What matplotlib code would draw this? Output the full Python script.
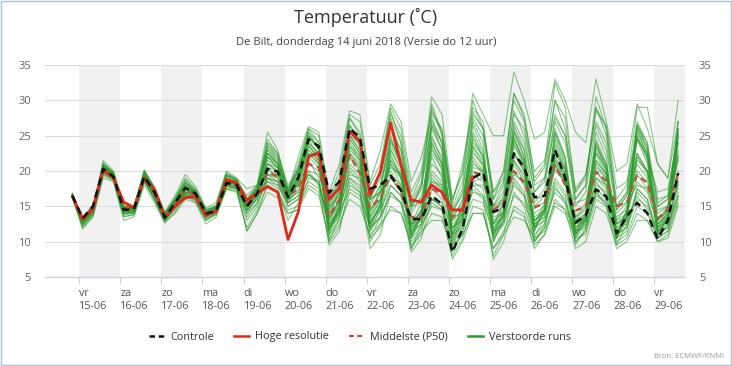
import matplotlib
matplotlib.use("Agg")
import matplotlib.pyplot as plt
from matplotlib.patches import Rectangle
from matplotlib.lines import Line2D

plt.rcParams['font.family'] = ['Open Sans', 'DejaVu Sans']

# ---------------- data ----------------
# time axis: hours relative to 15-06 00:00, 6-hourly, first point 14-06 20:00
start_hour = -4
step_hours = 6
n_points = 60

day_names = ["vr", "za", "zo", "ma", "di", "wo", "do", "vr", "za", "zo", "ma", "di", "wo", "do", "vr"]
day_dates = ["15-06", "16-06", "17-06", "18-06", "19-06", "20-06", "21-06", "22-06",
             "23-06", "24-06", "25-06", "26-06", "27-06", "28-06", "29-06"]

controle = [16.5,
            13.3, 15.0, 20.3, 19.2, 14.5, 14.6, 19.2, 17.0, 13.4, 15.5, 17.6, 16.8,
            14.0, 14.3, 18.3, 18.0, 15.0, 16.8, 20.3, 19.9, 16.3, 19.0, 24.5, 23.5,
            16.9, 18.5, 26.0, 24.8, 17.5, 18.0, 19.3, 17.3, 13.2, 13.2, 16.5, 15.3,
            8.5, 11.8, 19.0, 19.8, 14.2, 14.8, 22.5, 20.5, 16.3, 16.5, 23.0, 19.0,
            12.7, 13.7, 17.4, 16.4, 11.2, 13.6, 15.5, 14.0, 10.4, 13.0, 19.7]

hoge_resolutie = [16.4,
                  13.2, 14.6, 20.2, 19.0, 15.6, 14.8, 19.0, 17.4, 13.4, 15.0, 16.2, 16.4,
                  13.7, 14.3, 18.8, 18.3, 15.9, 16.8, 17.8, 17.0, 10.3, 14.2, 22.0, 22.6,
                  16.0, 17.6, 25.6, 24.2, 16.6, 19.9, 26.8, 20.9, 15.9, 15.6, 18.0, 17.0,
                  14.5, 14.5, 19.0]

middelste_p50 = [16.5,
                 13.3, 14.8, 20.0, 19.0, 14.8, 14.8, 19.0, 16.8, 13.5, 15.2, 17.3, 16.6,
                 13.9, 14.4, 18.3, 18.0, 15.3, 16.9, 19.8, 19.2, 16.4, 17.5, 21.0, 20.5,
                 13.6, 16.0, 22.2, 19.7, 14.8, 16.2, 19.4, 17.0, 13.5, 13.5, 17.5, 16.8,
                 13.5, 14.5, 19.8, 19.5, 14.6, 15.4, 20.0, 18.4, 14.8, 15.5, 20.8, 18.0,
                 14.4, 15.0, 19.9, 18.6, 15.0, 15.6, 19.4, 18.3, 13.3, 14.5, 19.7]

verstoorde_runs = [
    [16.8, 12.5, 14.2, 21.0, 19.5, 14.0, 14.2, 19.5, 16.5, 13.0, 15.8, 18.5, 17.0, 14.5, 14.8, 19.0, 18.2, 15.5, 17.5, 23.0, 21.5, 17.0, 20.5, 26.0, 24.0, 15.0, 18.0, 27.5, 25.0, 16.0, 20.0, 28.5, 24.0, 14.5, 18.0, 29.0, 25.0, 14.0, 17.0, 28.0, 26.0, 17.0, 19.0, 30.0, 27.0, 18.0, 19.0, 26.0, 22.0, 13.0, 15.0, 24.0, 21.0, 12.5, 14.0, 22.0, 20.0, 13.0, 15.0, 24.0],
    [16.2, 11.8, 13.5, 19.0, 18.5, 13.0, 13.5, 18.0, 15.5, 12.8, 14.0, 16.0, 15.5, 12.5, 13.5, 17.5, 17.0, 12.0, 14.5, 18.0, 17.0, 14.5, 15.0, 18.0, 17.0, 10.0, 12.0, 17.0, 16.0, 10.5, 12.0, 15.0, 14.0, 9.5, 11.0, 14.0, 13.5, 8.0, 10.5, 15.0, 14.5, 8.0, 11.0, 17.0, 15.0, 10.0, 12.0, 18.0, 15.5, 10.0, 11.5, 17.0, 15.0, 10.0, 11.0, 15.0, 14.0, 10.5, 11.5, 16.0],
    [16.6, 13.0, 14.8, 20.5, 19.5, 14.5, 14.5, 19.5, 17.0, 13.5, 15.5, 17.5, 16.5, 13.5, 14.5, 18.5, 18.0, 14.0, 16.5, 21.0, 20.0, 15.5, 18.5, 24.5, 22.0, 11.5, 14.5, 23.0, 21.5, 12.0, 15.5, 23.0, 20.0, 11.0, 14.0, 25.0, 21.5, 10.5, 14.0, 24.5, 22.0, 11.0, 14.5, 25.0, 21.0, 11.5, 14.5, 24.0, 20.0, 10.5, 13.5, 23.5, 20.5, 10.5, 14.0, 26.0, 22.0, 11.0, 14.0, 25.0],
    [16.9, 12.8, 14.5, 21.5, 20.0, 15.0, 15.0, 20.0, 17.5, 14.0, 16.0, 18.0, 17.0, 14.0, 15.0, 19.5, 18.5, 14.5, 16.0, 22.0, 20.5, 16.0, 19.0, 25.5, 23.0, 12.0, 15.0, 26.0, 23.5, 13.0, 16.0, 21.0, 18.0, 12.0, 14.5, 26.0, 23.0, 11.5, 15.0, 26.5, 23.0, 12.5, 15.5, 25.5, 22.0, 12.5, 15.5, 25.0, 21.0, 11.5, 14.0, 24.5, 21.0, 11.0, 14.5, 25.5, 22.5, 12.0, 15.0, 26.0],
    [16.5, 13.5, 15.0, 20.0, 19.0, 14.0, 14.0, 19.0, 16.0, 13.0, 15.0, 17.0, 16.5, 14.0, 14.5, 18.0, 17.5, 15.0, 17.0, 24.0, 22.5, 17.5, 21.0, 26.0, 25.0, 16.0, 20.0, 28.0, 27.0, 18.0, 21.0, 29.0, 26.0, 17.0, 20.0, 30.5, 28.0, 16.0, 20.0, 31.0, 28.0, 25.0, 25.0, 34.0, 30.0, 24.5, 25.5, 33.0, 30.0, 25.5, 24.0, 33.0, 27.0, 20.0, 21.0, 29.5, 26.0, 21.0, 19.0, 30.0],
    [16.7, 13.0, 14.8, 20.8, 19.8, 14.8, 14.8, 19.8, 17.2, 13.8, 16.0, 19.0, 17.5, 14.5, 15.0, 19.5, 19.0, 16.0, 18.0, 25.5, 23.0, 17.0, 22.0, 26.3, 25.5, 17.0, 21.0, 28.5, 28.0, 18.5, 23.0, 29.5, 27.0, 18.5, 22.0, 28.0, 26.0, 15.5, 21.0, 29.0, 27.0, 16.0, 20.0, 31.0, 28.0, 19.0, 21.0, 32.5, 29.0, 17.0, 19.0, 29.0, 26.0, 16.0, 18.0, 29.0, 29.0, 21.0, 19.0, 27.0],
    [16.3, 12.2, 13.8, 19.5, 18.8, 13.5, 13.8, 18.5, 16.0, 13.0, 14.5, 16.5, 16.0, 13.0, 14.0, 18.0, 17.5, 13.0, 15.0, 19.5, 18.5, 15.0, 16.0, 20.0, 18.0, 9.5, 11.5, 18.0, 17.0, 9.0, 11.0, 17.0, 15.5, 8.5, 10.5, 16.0, 15.0, 9.0, 11.0, 17.5, 16.0, 7.5, 10.0, 15.0, 14.0, 9.0, 11.0, 16.0, 14.5, 9.0, 10.0, 15.0, 14.0, 9.5, 10.5, 14.0, 13.0, 10.0, 10.5, 15.0],
    [16.5, 13.3, 15.0, 20.3, 19.3, 14.6, 14.8, 19.2, 17.0, 13.4, 15.3, 17.8, 16.8, 14.0, 14.4, 18.5, 18.0, 15.0, 17.0, 20.5, 20.0, 16.5, 18.0, 22.0, 20.5, 13.0, 16.0, 22.0, 20.0, 14.5, 17.0, 20.0, 17.5, 13.0, 14.0, 18.5, 17.5, 13.0, 14.5, 21.0, 20.0, 14.5, 15.5, 21.5, 19.0, 14.0, 15.0, 22.0, 19.0, 13.5, 14.5, 20.5, 19.0, 14.0, 15.5, 20.0, 18.5, 13.0, 14.5, 20.0],
    [16.4, 13.0, 14.6, 19.8, 19.0, 14.2, 14.4, 18.8, 16.6, 13.2, 15.0, 17.0, 16.2, 13.6, 14.2, 18.0, 17.8, 14.6, 16.5, 19.0, 18.5, 16.0, 17.0, 19.5, 18.0, 13.5, 15.0, 19.0, 18.0, 13.0, 14.5, 18.0, 16.5, 12.5, 13.0, 16.0, 15.5, 12.0, 13.5, 17.0, 16.5, 12.5, 13.5, 18.0, 16.5, 13.0, 14.0, 19.0, 17.0, 12.5, 13.0, 18.0, 17.0, 13.5, 14.5, 18.5, 17.0, 12.5, 13.5, 18.0],
    [16.6, 12.6, 14.2, 21.2, 19.8, 14.5, 14.2, 20.0, 17.8, 14.2, 16.5, 19.5, 17.8, 14.8, 15.5, 20.0, 19.0, 17.5, 18.0, 24.5, 22.5, 18.0, 20.0, 25.0, 23.0, 11.0, 14.0, 25.0, 23.0, 11.5, 14.5, 24.5, 21.0, 10.5, 13.5, 26.5, 23.0, 10.0, 13.5, 25.5, 22.5, 10.5, 14.0, 26.0, 22.0, 10.5, 13.5, 25.5, 21.5, 11.0, 13.0, 24.0, 20.0, 9.5, 12.5, 26.5, 23.0, 11.0, 13.5, 27.0],
    [16.7, 13.1, 14.9, 20.6, 19.4, 14.9, 14.6, 19.6, 17.3, 13.7, 15.6, 17.8, 16.9, 14.2, 14.8, 19.0, 18.4, 15.3, 17.3, 22.5, 21.0, 16.8, 19.5, 24.0, 21.0, 12.5, 15.0, 24.0, 22.0, 12.5, 15.0, 22.5, 19.0, 11.5, 13.5, 24.0, 21.0, 11.0, 14.5, 23.5, 21.0, 11.5, 14.0, 24.0, 20.5, 12.0, 14.0, 23.0, 19.5, 11.0, 13.0, 22.5, 19.5, 11.5, 13.5, 24.5, 21.0, 11.5, 13.0, 24.0],
    [16.5, 13.2, 14.7, 20.4, 19.4, 14.7, 14.7, 19.4, 17.1, 13.5, 15.4, 17.5, 16.7, 13.8, 14.6, 18.6, 18.1, 15.8, 17.8, 23.5, 22.0, 17.0, 20.0, 23.0, 21.5, 14.5, 17.5, 25.0, 23.0, 15.0, 18.0, 26.5, 23.0, 15.0, 17.5, 27.0, 24.0, 14.5, 16.5, 24.0, 22.0, 15.0, 17.0, 27.0, 24.0, 17.0, 18.5, 27.5, 25.0, 15.0, 17.0, 26.5, 23.0, 14.5, 16.5, 22.5, 20.0, 15.0, 16.0, 22.0],
    [16.3, 12.0, 13.6, 19.4, 18.6, 13.6, 13.8, 18.6, 15.8, 12.6, 14.2, 16.4, 15.6, 13.0, 13.8, 17.4, 17.2, 11.5, 14.0, 17.0, 16.2, 14.0, 14.5, 17.5, 16.5, 10.5, 12.5, 16.0, 15.0, 11.0, 12.5, 14.5, 14.0, 10.0, 11.5, 13.0, 13.0, 9.5, 11.0, 14.0, 14.0, 9.0, 11.5, 14.5, 13.5, 9.5, 11.0, 15.0, 14.0, 10.5, 11.0, 16.0, 15.0, 9.0, 10.0, 13.0, 13.0, 10.0, 11.0, 15.5],
    [16.8, 13.4, 15.2, 20.6, 19.6, 14.4, 14.8, 19.4, 17.2, 13.6, 15.8, 18.5, 17.2, 14.2, 14.9, 19.5, 18.8, 16.0, 17.5, 23.0, 21.0, 16.5, 19.0, 23.5, 22.0, 14.0, 17.0, 26.5, 24.5, 16.0, 19.0, 27.5, 24.0, 15.5, 18.5, 29.5, 25.5, 15.0, 18.5, 30.0, 26.0, 15.0, 18.0, 28.5, 25.0, 17.0, 19.0, 30.0, 26.0, 16.0, 18.0, 30.5, 26.0, 15.0, 17.0, 26.0, 23.0, 16.0, 16.5, 25.5],
    [16.4, 12.9, 14.3, 20.1, 19.1, 14.1, 14.3, 18.9, 16.7, 13.3, 15.2, 17.2, 16.5, 13.9, 14.4, 18.4, 18.2, 14.3, 16.2, 20.5, 19.0, 15.5, 17.5, 21.5, 19.0, 12.0, 14.0, 20.5, 19.0, 12.5, 15.0, 21.5, 19.5, 12.0, 14.5, 22.0, 19.0, 12.5, 14.0, 20.0, 19.0, 12.0, 13.5, 21.0, 18.5, 13.5, 14.5, 21.0, 18.0, 12.0, 13.0, 21.5, 19.5, 13.0, 14.0, 22.0, 19.5, 12.5, 14.0, 22.0],
    [16.2, 12.4, 14.0, 19.8, 19.2, 14.3, 14.4, 18.6, 16.3, 13.0, 15.0, 16.8, 16.0, 13.3, 14.0, 17.8, 17.5, 11.5, 14.0, 18.0, 17.0, 14.0, 14.5, 19.0, 18.5, 12.5, 14.5, 20.0, 18.5, 11.5, 13.5, 19.5, 18.0, 11.0, 12.5, 19.0, 17.5, 10.0, 12.5, 18.5, 17.5, 11.0, 13.0, 19.0, 17.0, 11.0, 12.5, 18.5, 16.5, 10.5, 12.5, 19.0, 17.5, 11.0, 12.0, 17.5, 16.0, 11.5, 12.0, 17.0],
    [16.6, 12.7, 14.4, 20.9, 19.7, 14.8, 14.9, 20.2, 17.6, 13.9, 16.3, 18.8, 17.3, 14.6, 15.2, 19.8, 18.7, 15.5, 17.0, 23.5, 21.5, 16.8, 19.5, 25.5, 24.0, 10.0, 13.5, 24.5, 22.5, 10.5, 13.5, 22.0, 19.5, 9.0, 12.5, 24.0, 21.0, 9.5, 13.0, 25.0, 22.0, 10.0, 13.5, 24.5, 21.5, 11.5, 14.5, 24.5, 20.5, 11.5, 13.5, 23.5, 21.0, 10.5, 13.0, 25.0, 22.0, 11.0, 13.5, 25.5],
    [16.3, 12.3, 13.9, 19.6, 18.8, 13.8, 14.0, 18.4, 16.1, 12.9, 14.8, 16.6, 15.8, 13.2, 13.9, 17.6, 17.4, 13.5, 15.5, 19.0, 18.0, 15.5, 16.5, 19.5, 18.5, 12.0, 13.5, 18.5, 17.0, 12.0, 13.5, 17.0, 15.5, 10.5, 12.0, 15.5, 14.5, 7.5, 10.0, 14.0, 14.0, 9.0, 11.0, 13.5, 13.0, 10.5, 11.5, 15.5, 14.5, 11.5, 12.0, 17.5, 16.0, 12.0, 12.5, 17.0, 15.5, 11.0, 12.0, 16.5],
    [16.7, 13.3, 15.1, 20.7, 19.5, 15.2, 15.0, 19.8, 17.4, 14.0, 15.9, 18.2, 17.1, 14.3, 15.0, 19.2, 18.6, 16.5, 18.0, 22.0, 21.0, 17.0, 20.0, 24.0, 22.5, 14.5, 17.0, 22.5, 21.0, 15.5, 18.0, 24.0, 21.5, 14.0, 16.5, 23.0, 21.0, 13.5, 15.5, 22.5, 21.0, 14.0, 16.0, 23.5, 21.5, 15.0, 16.5, 22.5, 20.5, 13.5, 15.5, 22.5, 20.5, 13.0, 15.0, 21.5, 20.0, 14.0, 15.0, 21.5],
    [16.5, 12.9, 14.6, 20.5, 19.3, 14.4, 14.6, 19.3, 17.0, 13.6, 15.5, 17.8, 16.8, 14.1, 14.7, 18.8, 18.3, 15.2, 17.2, 21.5, 20.5, 16.2, 18.5, 23.0, 21.5, 11.5, 14.5, 22.5, 20.5, 12.0, 14.5, 23.5, 21.0, 11.5, 14.0, 23.5, 20.0, 11.0, 13.5, 23.0, 20.5, 11.0, 14.0, 24.5, 21.0, 12.0, 14.5, 23.5, 20.0, 11.0, 13.0, 23.0, 20.0, 11.0, 13.5, 25.0, 21.5, 11.5, 13.0, 25.0],
    [16.6, 13.2, 14.9, 20.2, 19.2, 14.5, 14.7, 19.1, 16.9, 13.5, 15.3, 17.5, 16.8, 13.9, 14.6, 18.6, 18.1, 15.0, 17.5, 21.0, 20.5, 16.5, 19.0, 22.5, 21.0, 13.5, 17.0, 23.5, 22.0, 14.0, 17.5, 25.5, 23.0, 15.0, 18.0, 26.5, 24.0, 14.5, 17.5, 27.5, 25.0, 16.0, 18.5, 28.0, 26.0, 18.5, 20.5, 30.0, 27.5, 17.0, 19.5, 28.5, 26.5, 17.5, 18.5, 24.5, 22.0, 17.0, 17.5, 25.0],
    [16.4, 12.7, 14.4, 20.0, 19.0, 14.0, 14.2, 18.8, 16.6, 13.1, 14.9, 17.0, 16.4, 13.6, 14.3, 18.2, 17.8, 14.8, 16.8, 19.5, 19.0, 16.0, 17.0, 21.0, 20.0, 14.0, 15.5, 21.0, 19.5, 14.5, 16.0, 21.5, 19.0, 12.5, 13.5, 19.5, 18.0, 12.0, 13.0, 19.5, 18.5, 13.0, 14.0, 20.0, 18.0, 12.5, 13.5, 20.5, 18.5, 13.0, 14.0, 20.0, 18.0, 12.5, 13.5, 19.5, 17.5, 12.0, 13.0, 19.0],
    [16.5, 13.1, 14.7, 20.2, 19.1, 14.3, 14.5, 19.0, 16.8, 13.3, 15.2, 17.4, 16.6, 13.8, 14.4, 18.2, 17.9, 15.2, 16.5, 20.0, 19.5, 16.2, 18.5, 24.0, 22.5, 16.5, 18.0, 25.5, 24.0, 16.0, 17.0, 19.0, 17.0, 12.0, 13.0, 16.0, 15.0, 8.5, 11.5, 18.5, 19.0, 13.5, 14.0, 21.5, 19.5, 15.0, 15.5, 21.5, 18.5, 12.5, 13.5, 18.5, 16.5, 11.5, 13.0, 16.5, 14.5, 10.5, 12.5, 18.5],
    [16.8, 13.0, 14.5, 21.0, 19.8, 14.6, 14.5, 19.8, 17.5, 14.1, 16.0, 18.0, 17.0, 14.4, 14.9, 19.3, 18.7, 15.8, 17.6, 24.0, 22.0, 17.2, 20.5, 25.0, 23.5, 11.5, 15.0, 26.5, 24.0, 12.5, 15.5, 24.5, 21.0, 10.5, 14.0, 27.5, 24.0, 11.0, 15.0, 27.0, 24.0, 11.5, 15.5, 26.5, 23.0, 12.0, 15.0, 25.5, 22.0, 11.0, 14.0, 25.5, 22.0, 10.5, 14.5, 26.5, 23.5, 11.5, 14.5, 27.0],
    [16.5, 13.0, 14.9, 20.0, 19.4, 14.6, 14.9, 19.0, 17.3, 13.8, 15.4, 17.0, 16.9, 14.2, 14.6, 18.0, 18.3, 16.0, 17.0, 19.5, 19.5, 17.0, 18.0, 20.0, 19.5, 15.0, 16.5, 19.5, 19.0, 16.0, 17.0, 20.5, 19.5, 15.5, 16.0, 18.5, 18.0, 14.0, 15.0, 18.0, 18.0, 15.0, 16.0, 19.5, 18.5, 16.0, 16.5, 20.0, 18.5, 15.5, 16.0, 19.0, 18.0, 15.0, 15.5, 18.0, 17.5, 14.5, 15.0, 17.5],
    [16.6, 13.1, 14.8, 20.4, 19.3, 14.6, 14.6, 19.4, 17.1, 13.6, 15.5, 17.7, 16.8, 14.0, 14.6, 18.6, 18.2, 15.6, 17.0, 22.5, 21.0, 16.0, 19.5, 25.0, 23.0, 13.0, 16.0, 24.5, 22.5, 13.5, 17.0, 25.0, 21.0, 12.5, 15.5, 24.5, 22.0, 13.0, 16.0, 23.5, 21.5, 14.0, 16.5, 25.5, 23.0, 15.5, 17.5, 27.0, 24.0, 16.0, 18.0, 29.0, 25.0, 15.0, 17.0, 27.0, 24.0, 15.5, 16.5, 26.0],
    [16.4, 12.8, 14.5, 19.9, 19.0, 14.2, 14.4, 18.8, 16.5, 13.2, 15.0, 16.8, 16.2, 13.7, 14.3, 18.0, 17.6, 14.0, 15.5, 18.5, 18.0, 15.0, 16.0, 18.5, 17.5, 12.5, 14.0, 17.5, 16.5, 12.0, 13.5, 16.5, 15.5, 11.5, 12.5, 15.0, 14.5, 11.0, 12.0, 16.0, 15.5, 11.5, 12.5, 16.5, 15.5, 12.0, 13.0, 17.0, 15.5, 11.5, 12.5, 16.5, 15.5, 11.0, 12.0, 16.0, 15.0, 11.5, 12.5, 16.5],
    [16.5, 13.2, 14.7, 20.3, 19.1, 15.0, 14.8, 19.0, 17.2, 13.5, 15.1, 16.5, 16.4, 13.8, 14.4, 18.6, 18.2, 15.8, 16.8, 18.5, 17.5, 13.0, 15.5, 22.5, 22.0, 15.5, 17.5, 25.0, 24.0, 16.5, 19.5, 27.0, 22.0, 15.0, 15.5, 20.0, 18.5, 13.0, 14.5, 20.5, 20.0, 14.0, 15.0, 22.5, 20.5, 13.0, 14.5, 21.0, 18.5, 12.0, 13.5, 20.0, 18.0, 12.5, 13.5, 21.0, 19.0, 12.0, 13.5, 22.5],
    [16.6, 13.0, 14.6, 20.6, 19.5, 14.7, 14.7, 19.6, 17.2, 13.7, 15.7, 18.0, 17.0, 14.1, 14.7, 18.9, 18.4, 15.5, 17.2, 22.0, 20.5, 16.5, 18.5, 23.5, 22.0, 12.0, 14.5, 23.5, 21.5, 12.5, 15.0, 23.0, 20.5, 11.0, 13.5, 22.5, 20.5, 10.5, 13.0, 22.0, 20.0, 10.0, 13.0, 22.5, 20.0, 10.0, 12.5, 21.5, 19.0, 9.5, 12.0, 21.0, 19.0, 10.5, 13.5, 26.5, 24.0, 13.0, 14.5, 26.0],
    [16.7, 13.2, 15.0, 20.8, 19.7, 14.9, 14.9, 19.8, 17.4, 13.9, 15.9, 18.3, 17.2, 14.3, 14.9, 19.3, 18.6, 15.5, 17.5, 22.5, 21.0, 17.5, 20.0, 24.5, 23.5, 15.5, 19.0, 27.5, 25.5, 16.5, 20.0, 28.0, 25.0, 16.0, 19.5, 28.5, 25.5, 16.0, 19.5, 28.5, 26.0, 17.0, 20.0, 31.0, 27.5, 20.0, 21.5, 28.0, 25.0, 17.5, 19.5, 27.0, 24.0, 14.5, 16.5, 24.5, 22.5, 15.0, 16.0, 24.5],
    [16.3, 12.5, 14.1, 19.7, 18.9, 14.0, 14.1, 18.7, 16.4, 13.0, 14.7, 16.7, 15.9, 13.4, 14.1, 17.9, 17.6, 14.5, 16.0, 19.0, 18.5, 15.5, 16.5, 19.5, 18.5, 11.0, 13.0, 19.0, 17.5, 10.0, 12.5, 18.0, 16.5, 9.0, 11.5, 17.5, 16.0, 9.5, 12.0, 18.0, 16.5, 10.5, 12.5, 18.5, 16.5, 10.0, 12.0, 17.5, 16.0, 10.0, 11.5, 17.0, 15.5, 10.5, 11.5, 17.5, 16.0, 10.5, 11.5, 18.5],
    [16.5, 13.1, 14.8, 20.3, 19.3, 14.5, 14.6, 19.3, 17.0, 13.5, 15.4, 17.6, 16.8, 14.0, 14.5, 18.6, 18.1, 15.0, 16.8, 21.0, 20.0, 16.2, 18.0, 22.5, 21.0, 13.0, 15.5, 22.0, 20.5, 13.5, 16.0, 21.0, 19.0, 12.5, 14.5, 21.0, 19.5, 12.0, 14.0, 21.5, 19.5, 12.5, 14.5, 22.5, 20.0, 13.0, 14.5, 22.0, 19.5, 12.5, 14.0, 21.5, 19.5, 12.0, 14.0, 22.5, 20.0, 12.5, 14.0, 23.0],
]

y_ticks = [5, 10, 15, 20, 25, 30, 35]

# ---------------- figure ----------------
fig = plt.figure(figsize=(7.32, 3.66), dpi=100)
ax = fig.add_axes([45/732, 1 - 277/366, (685 - 45)/732, (277 - 65)/366])

hours = [start_hour + step_hours * i for i in range(n_points)]

# day shading (alternating, starting with vr 15-06)
for d in range(len(day_names)):
    if d % 2 == 0:
        ax.axvspan(24 * d, 24 * d + 24, color="#f1f1f1", lw=0, zorder=0)

for run in verstoorde_runs:
    ax.plot(hours[:len(run)], run, color="#2a9a2a", lw=0.8, alpha=0.55, zorder=2)

ax.plot(hours[:len(middelste_p50)], middelste_p50, color="#b5553a", lw=1.6,
        ls=(0, (3, 2)), zorder=4)
ax.plot(hours[:len(hoge_resolutie)], hoge_resolutie, color="#e0291b", lw=2.0, zorder=5)
ax.plot(hours[:len(controle)], controle, color="#111111", lw=1.8,
        ls=(0, (3, 2)), zorder=6)

ax.set_xlim(-20, 354)
ax.set_ylim(5, 35)
ax.set_yticks(y_ticks)
ax.grid(axis="y", color="#dcdcdc", lw=0.8, zorder=1)
ax.set_axisbelow(True)

ax.set_xticks([24 * d for d in range(len(day_names))])
ax.set_xticklabels([f"{n}\n{dt}" for n, dt in zip(day_names, day_dates)],
                   ha="left", fontsize=7.8, color="#555555", linespacing=1.25)
ax.tick_params(axis="x", length=5, color="#c8d4e0", pad=3)
ax.tick_params(axis="y", length=0, labelsize=8, labelcolor="#666666", pad=10,
               labelleft=True, labelright=True)

for s in ["top", "left", "right"]:
    ax.spines[s].set_visible(False)
ax.spines["bottom"].set_color("#c8d4e0")
ax.spines["bottom"].set_linewidth(1.0)

fig.text(0.5, 1 - 17/366, "Temperatuur (˚C)", ha="center", va="center",
         fontsize=13, color="#333333")
fig.text(0.5, 1 - 43/366, "De Bilt, donderdag 14 juni 2018 (Versie do 12 uur)",
         ha="center", va="center", fontsize=8.1, color="#444444")

handles = [
    Line2D([], [], color="#111111", lw=1.8, ls=(0, (2.2, 1.5))),
    Line2D([], [], color="#e0291b", lw=1.8),
    Line2D([], [], color="#b5553a", lw=1.6, ls=(0, (2.2, 1.5))),
    Line2D([], [], color="#2a9a2a", lw=1.8),
]
labels = ["Controle", "Hoge resolutie", "Middelste (P50)", "Verstoorde runs"]
fig.legend(handles, labels, loc="center", bbox_to_anchor=(360/732, 1 - 337/366),
           ncol=4, frameon=False, fontsize=7.8, handlelength=1.4, handletextpad=0.6,
           columnspacing=1.8, labelcolor="#333333")

fig.text(724/732, 1 - 356/366, "Bron: ECMWF/KNMI", ha="right", va="center",
         fontsize=5.5, color="#999999")

fig.patches.append(Rectangle((0.001, 0.002), 0.997, 0.995, transform=fig.transFigure,
                             fill=False, edgecolor="#a8c0d8", lw=1.0))

fig.savefig("out.png", dpi=100)
